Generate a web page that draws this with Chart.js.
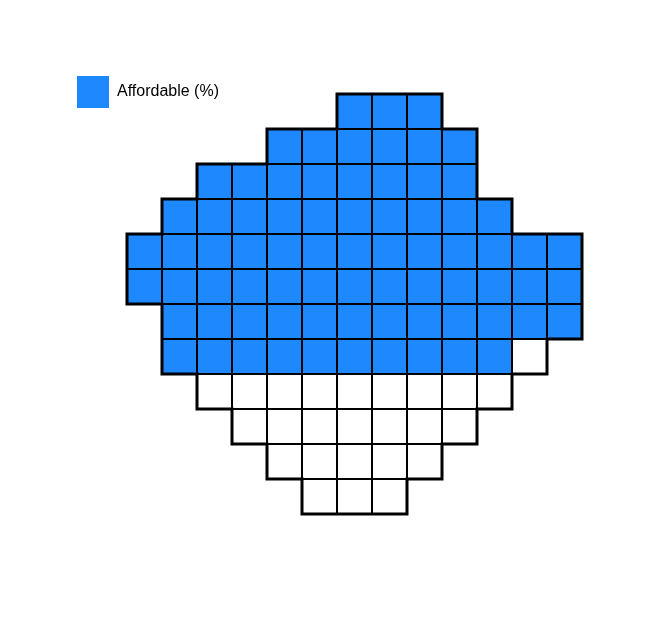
<!DOCTYPE html>
<html>
<head>
<meta charset="utf-8">
<script src="https://cdn.jsdelivr.net/npm/chart.js@4/dist/chart.umd.min.js"></script>
<style>
html,body{margin:0;padding:0;background:#fff;}
#wrap{width:670px;height:628px;}
</style>
</head>
<body>
<div id="wrap"><canvas id="c" width="670" height="628"></canvas></div>
<script>
// Shape: for each row (top to bottom) the first and last column index of the pictogram
const rowStart = [6, 4, 2, 1, 0, 0, 1, 1, 2, 3, 4, 5];
const rowEnd   = [8, 9, 9, 10, 12, 12, 12, 11, 10, 9, 8, 7];
const seriesLabel = 'Affordable (%)';
const affordablePct = 75; // filled cells out of 100

const filledCells = [];
const emptyCells = [];
const shape = new Set();
let k = 0;
for (let r = 0; r < rowStart.length; r++) {
  for (let c = rowStart[r]; c <= rowEnd[r]; c++) {
    shape.add(c + ',' + r);
    if (k < affordablePct) filledCells.push({x: c, y: r});
    else emptyCells.push({x: c, y: r});
    k++;
  }
}

function cellRadius(ctx) {
  const s = ctx.chart.scales.x;
  if (!s) return 10;
  const side = Math.abs(s.getPixelForValue(1) - s.getPixelForValue(0));
  return side / Math.SQRT2;
}

const outlinePlugin = {
  id: 'outline',
  afterDatasetsDraw(chart) {
    const {ctx, scales: {x, y}} = chart;
    ctx.save();
    ctx.strokeStyle = '#000';
    ctx.lineWidth = 3;
    ctx.lineCap = 'square';
    ctx.beginPath();
    shape.forEach(key => {
      const [c, r] = key.split(',').map(Number);
      const l = x.getPixelForValue(c - 0.5), rr = x.getPixelForValue(c + 0.5);
      const t = y.getPixelForValue(r - 0.5), b = y.getPixelForValue(r + 0.5);
      if (!shape.has(c + ',' + (r - 1))) { ctx.moveTo(l, t); ctx.lineTo(rr, t); }
      if (!shape.has(c + ',' + (r + 1))) { ctx.moveTo(l, b); ctx.lineTo(rr, b); }
      if (!shape.has((c - 1) + ',' + r)) { ctx.moveTo(l, t); ctx.lineTo(l, b); }
      if (!shape.has((c + 1) + ',' + r)) { ctx.moveTo(rr, t); ctx.lineTo(rr, b); }
    });
    ctx.stroke();
    ctx.restore();
  }
};

new Chart(document.getElementById('c'), {
  type: 'scatter',
  data: {
    datasets: [
      {
        label: seriesLabel,
        data: filledCells,
        backgroundColor: '#1E88FF',
        borderColor: '#000',
        borderWidth: 2,
        pointStyle: 'rect',
        pointRadius: cellRadius,
        pointHoverRadius: cellRadius,
        clip: false
      },
      {
        label: 'Other',
        data: emptyCells,
        backgroundColor: '#fff',
        borderColor: '#000',
        borderWidth: 2,
        pointStyle: 'rect',
        pointRadius: cellRadius,
        pointHoverRadius: cellRadius,
        clip: false
      }
    ]
  },
  options: {
    responsive: false,
    animation: false,
    layout: {padding: {left: 67, right: 88, top: 66, bottom: 114}},
    scales: {
      x: {type: 'linear', min: 12.5 - 515 / 35, max: 12.5, display: false},
      y: {type: 'linear', min: 11.5 - 396 / 35, max: 11.5, reverse: true, display: false}
    },
    plugins: {
      legend: {
        position: 'top',
        align: 'start',
        labels: {
          boxWidth: 32,
          boxHeight: 32,
          padding: 10,
          color: '#000',
          font: {family: 'Liberation Sans, Arial, sans-serif', size: 16},
          generateLabels: chart => [{
            text: seriesLabel,
            fillStyle: '#1E88FF',
            strokeStyle: '#1E88FF',
            lineWidth: 0,
            datasetIndex: 0,
            fontColor: '#000'
          }]
        }
      },
      tooltip: {enabled: false}
    }
  },
  plugins: [outlinePlugin]
});
</script>
</body>
</html>
